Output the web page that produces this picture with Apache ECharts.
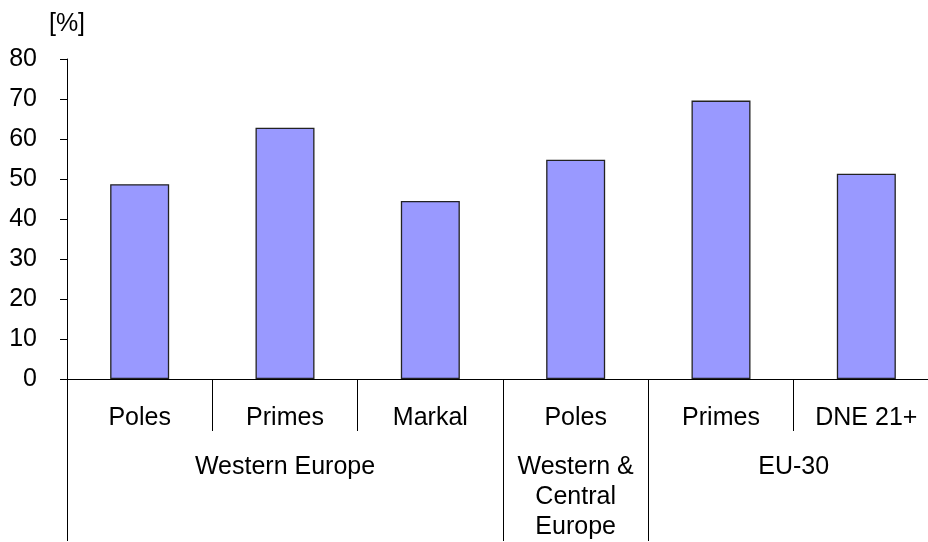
<!DOCTYPE html>
<html>
<head>
<meta charset="utf-8">
<script src="https://cdn.jsdelivr.net/npm/echarts@6/dist/echarts.min.js"></script>
<style>html,body{margin:0;padding:0;background:#fff;overflow:hidden;width:928px;height:542px}#c{width:940px;height:542px}</style>
</head>
<body>
<div id="c"></div>
<script>
const models = ['Poles', 'Primes', 'Markal', 'Poles', 'Primes', 'DNE 21+'];
const values = [48.7, 62.8, 44.5, 54.8, 69.6, 51.3];
const groups = ['Western Europe', 'Western &\nCentral\nEurope', 'EU-30'];
const groupCenters = [1.5, 3.5, 5];
const groupBounds = [0, 3, 4, 6];
const yTicks = [0, 10, 20, 30, 40, 50, 60, 70, 80];

const font = 'Liberation Sans, Arial, sans-serif';
const chart = echarts.init(document.getElementById('c'), null, {renderer: 'canvas'});
chart.setOption({
  animation: false,
  backgroundColor: '#fff',
  grid: {left: 67, top: 59, right: 1, bottom: 161, containLabel: false},
  xAxis: [{
    type: 'category',
    data: models,
    position: 'bottom',
    axisLine: {show: true, lineStyle: {color: '#000', width: 1}},
    axisTick: {show: true, interval: 0, length: 52, lineStyle: {color: '#000', width: 1}},
    axisLabel: {interval: 0, margin: 27, color: '#000', fontSize: 25, fontFamily: font}
  }, {
    type: 'value',
    min: 0, max: 6,
    position: 'bottom',
    splitLine: {show: false},
    axisLine: {show: false},
    axisTick: {show: true, customValues: groupBounds, length: 162, lineStyle: {color: '#000', width: 1}},
    axisLabel: {
      customValues: groupCenters,
      margin: 73,
      color: '#000', fontSize: 25, fontFamily: font, lineHeight: 30,
      formatter: function (v) { const i = groupCenters.indexOf(v); return i >= 0 ? groups[i] : ''; }
    }
  }],
  yAxis: {
    type: 'value',
    min: yTicks[0], max: yTicks[yTicks.length - 1], interval: 10,
    name: '[%]',
    nameLocation: 'end',
    nameGap: 22,
    nameTextStyle: {color: '#000', fontSize: 25, fontFamily: font},
    splitLine: {show: false},
    axisLine: {show: true, lineStyle: {color: '#000', width: 1}},
    axisTick: {show: true, length: 7, lineStyle: {color: '#000', width: 1}},
    axisLabel: {margin: 30, color: '#000', fontSize: 25, fontFamily: font}
  },
  series: [{
    type: 'bar',
    data: values,
    barWidth: 59,
    itemStyle: {color: '#9999ff', borderColor: '#222', borderWidth: 1.3}
  }]
});
</script>
</body>
</html>
